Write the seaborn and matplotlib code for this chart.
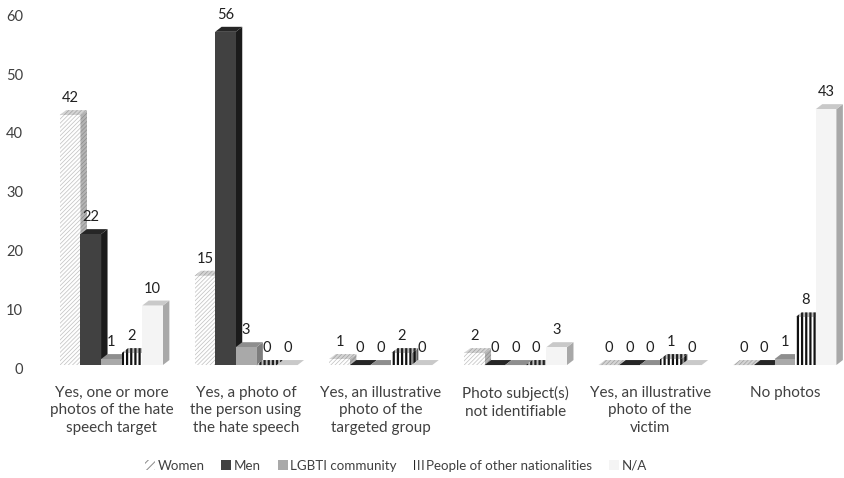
import matplotlib
matplotlib.use("Agg")
import matplotlib.pyplot as plt
from matplotlib.patches import Polygon, Patch
import pandas as pd
import seaborn as sns

# ---- data -------------------------------------------------------------
categories = [
    "Yes, one or more\nphotos of the hate\nspeech target",
    "Yes, a photo of\nthe person using\nthe hate speech",
    "Yes, an illustrative\nphoto of the\ntargeted group",
    "Photo subject(s)\nnot identifiable",
    "Yes, an illustrative\nphoto of the\nvictim",
    "No photos",
]
groups = ["Women", "Men", "LGBTI community", "People of other nationalities", "N/A"]
women = [42, 15, 1, 2, 0, 0]
men = [22, 56, 0, 0, 0, 0]
lgbti = [1, 3, 0, 0, 0, 1]
other_nationalities = [2, 0, 2, 0, 1, 8]
not_available = [10, 0, 0, 3, 0, 43]
y_ticks = [0, 10, 20, 30, 40, 50, 60]

series = [women, men, lgbti, other_nationalities, not_available]
df = pd.DataFrame(
    [(c, g, v) for g, vals in zip(groups, series) for c, v in zip(categories, vals)],
    columns=["category", "group", "count"],
)

# ---- styling of each bar's front / side / top faces ------------------
styles = {
    "Women": dict(front=("#ffffff", "#c4c4c4", "////////"),
                  side=("#b4b4b4", "#8e8e8e", "////////"),
                  top=("#d4d4d4", "#a4a4a4", "////////"), hlw=0.55),
    "Men": dict(front=("#414141", "#414141", ""),
                side=("#1b1b1b", "#1b1b1b", ""),
                top=("#262626", "#262626", ""), hlw=0.7),
    "LGBTI community": dict(front=("#a9a9a9", "#a9a9a9", ""),
                            side=("#7d7d7d", "#7d7d7d", ""),
                            top=("#8e8e8e", "#8e8e8e", ""), hlw=0.7),
    "People of other nationalities": dict(front=("#ffffff", "#111111", "||||"),
                                          side=("#8a8a8a", "#111111", "||||"),
                                          top=("#bdbdbd", "#222222", "||||"), hlw=1.6),
    "N/A": dict(front=("#f4f4f4", "#f4f4f4", ""),
                side=("#a8a8a8", "#a8a8a8", ""),
                top=("#c9c9c9", "#c9c9c9", ""), hlw=0.7),
}
text_color = "#404040"

sns.set_theme(style="white")
plt.rcParams["font.family"] = ["Lato", "DejaVu Sans"]
plt.rcParams["hatch.linewidth"] = 0.7

W, H = 844, 478
fig = plt.figure(figsize=(W / 100, H / 100), dpi=100)
ax_left, ax_bottom, ax_w, ax_h = 44, 371, 800, 363
ax = fig.add_axes([ax_left / W, (H - ax_bottom) / H, ax_w / W, ax_h / H])

x_min, x_max = -0.5, -0.5 + ax_w / 134.7
y_min, y_max = -1, 60

sns.barplot(data=df, x="category", y="count", hue="group", hue_order=groups,
            order=categories, palette=[styles[g]["front"][0] for g in groups],
            width=0.765, gap=0, saturation=1, legend=False, ax=ax)
ax.set_xlim(x_min, x_max)
ax.set_ylim(y_min, y_max)

# depth of the pseudo-3D extrusion, in data units
dx = 6.5 * (x_max - x_min) / ax_w
dy = 5.0 * (y_max - y_min) / ax_h


def style_patch(p, spec, hlw):
    face, hcol, hatch = spec
    p.set_facecolor(face)
    p.set_edgecolor(hcol)
    p.set_linewidth(0)
    p.set_hatch(hatch if hatch else None)
    if hasattr(p, "set_hatch_linewidth"):
        p.set_hatch_linewidth(hlw)


for j, (g, cont) in enumerate(zip(groups, ax.containers)):
    st = styles[g]
    z = 3 + j * 0.1
    for bar in cont:
        x0, w, h = bar.get_x(), bar.get_width(), bar.get_height()
        x1 = x0 + w
        side = Polygon([(x1, 0), (x1 + dx, dy), (x1 + dx, h + dy), (x1, h)], closed=True)
        top = Polygon([(x0, h), (x0 + dx, h + dy), (x1 + dx, h + dy), (x1, h)], closed=True)
        for poly, key in ((side, "side"), (top, "top")):
            style_patch(poly, st[key], st["hlw"])
            poly.set_zorder(z)
            ax.add_patch(poly)
        style_patch(bar, st["front"], st["hlw"])
        bar.set_zorder(z + 0.05)
        ax.annotate(f"{h:.0f}", (x0 + w / 2, h), xytext=(0, 12.2),
                    textcoords="offset points", ha="center", va="center",
                    fontsize=10.5, color="#202020", zorder=10)

# value axis labels sit on the receding back wall
wall_ticks = [t * 0.988 - 0.5 for t in y_ticks]
ax.set_yticks(wall_ticks, [str(t) for t in y_ticks])
ax.set_xticks(range(len(categories)), categories)
ax.tick_params(axis="y", length=0, pad=15, labelsize=10.5, labelcolor=text_color)
ax.tick_params(axis="x", length=0, pad=11, labelsize=11, labelcolor=text_color)
for lbl in ax.get_xticklabels():
    lbl.set_linespacing(1.29)
ax.set_xlabel("")
ax.set_ylabel("")
sns.despine(ax=ax, left=True, bottom=True)
ax.grid(False)

handles = []
for g in groups:
    p = Patch(label=g)
    if g == "Women":
        spec, hlw = ("#ffffff", "#8a8a8a", "////"), 0.7
    elif g == "People of other nationalities":
        spec, hlw = ("#ffffff", "#111111", "||||"), 1.8
    else:
        spec, hlw = styles[g]["front"], styles[g]["hlw"]
    style_patch(p, spec, hlw)
    handles.append(p)
fig.legend(handles=handles, loc="center", bbox_to_anchor=(396 / W, 1 - 466 / H),
           ncol=5, frameon=False, fontsize=9.6, handlelength=0.75, handleheight=0.75,
           handletextpad=0.2, columnspacing=1.25, labelcolor=text_color)

fig.savefig("out.png", dpi=100)
